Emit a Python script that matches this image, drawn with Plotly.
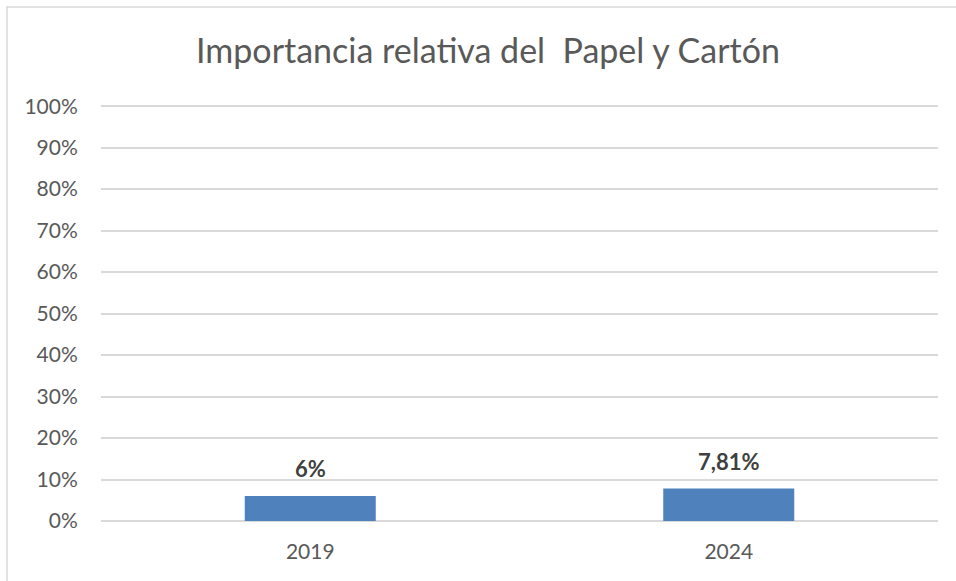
import plotly.graph_objects as go

# Data
years = ["2019", "2024"]
shares = [0.06, 0.0781]
share_labels = ["6%", "7,81%"]
y_ticks = [i / 10 for i in range(11)]
y_tick_labels = [f"{i * 10}%" for i in range(11)]

COLORS = {
    'bar': '#4f81bd',
    'grid': '#d9d9d9',
    'text': '#595959',
    'label': '#404040',
    'border': '#d9d9d9',
}
FONT = "Lato, 'Open Sans', sans-serif"

fig = go.Figure()

fig.add_trace(go.Bar(
    x=years,
    y=shares,
    marker=dict(color=COLORS['bar'], line=dict(width=0)),
    hoverinfo='skip',
))

# Bold value labels above each bar (category index positions)
for i, (val, lab) in enumerate(zip(shares, share_labels)):
    fig.add_annotation(
        x=i, y=val, text=f"<b>{lab}</b>",
        showarrow=False, yanchor='bottom', yshift=12,
        font=dict(family=FONT, size=22, color=COLORS['label']),
    )

# Chart-area border (left and top edges visible)
fig.add_shape(
    type='rect', xref='paper', yref='paper',
    x0=-94 / 837, x1=1.2, y0=-0.2, y1=1 + 95 / 419,
    line=dict(color=COLORS['border'], width=1.5),
    fillcolor='rgba(0,0,0,0)', layer='below',
)

fig.update_layout(
    width=956,
    height=581,
    margin=dict(l=101, r=18, t=102, b=60),
    paper_bgcolor='white',
    plot_bgcolor='white',
    showlegend=False,
    bargap=0.687,
    title=dict(
        text="Importancia relativa del  Papel y Cartón",
        x=488 / 956, xanchor='center', xref='container',
        y=1 - 51 / 581, yanchor='middle', yref='container',
        font=dict(family=FONT, size=34, color=COLORS['text']),
    ),
    xaxis=dict(
        type='category', range=[-0.5, 1.5],
        showgrid=False, showline=False, zeroline=False,
        ticks='outside', ticklen=12, tickcolor='rgba(0,0,0,0)',
        tickfont=dict(family=FONT, size=21, color=COLORS['text']),
    ),
    yaxis=dict(
        range=[0, 1.01], tickvals=y_ticks, ticktext=y_tick_labels,
        showgrid=True, gridcolor=COLORS['grid'], gridwidth=1.5,
        zeroline=True, zerolinecolor=COLORS['grid'], zerolinewidth=1.5,
        showline=False,
        ticks='outside', ticklen=18, tickcolor='rgba(0,0,0,0)',
        tickfont=dict(family=FONT, size=21, color=COLORS['text']),
    ),
)

fig.write_html("out.html", config={'displayModeBar': False},
               post_script="document.body.style.margin='0';")
